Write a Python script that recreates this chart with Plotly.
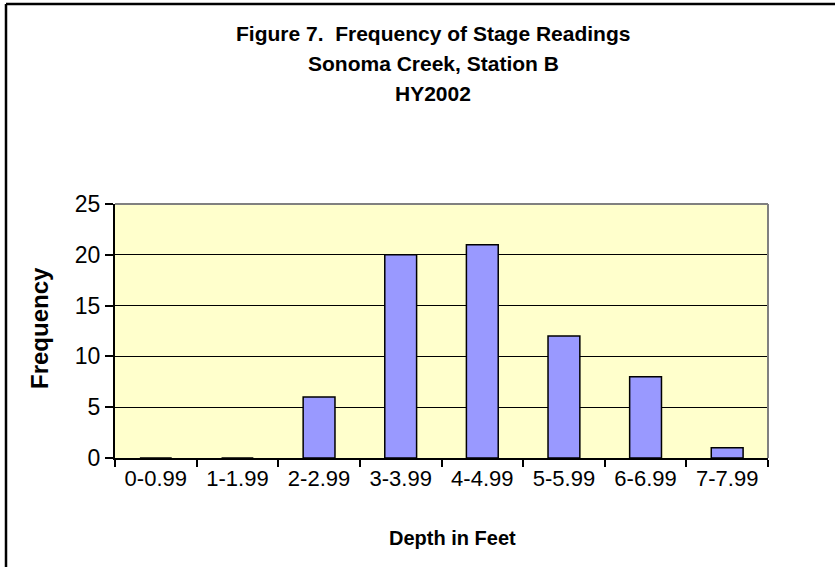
import plotly.graph_objects as go

categories = ["0-0.99", "1-1.99", "2-2.99", "3-3.99", "4-4.99", "5-5.99", "6-6.99", "7-7.99"]
frequency = [0, 0, 6, 20, 21, 12, 8, 1]
y_ticks = [0, 5, 10, 15, 20, 25]

W, H = 835, 567
L, T = 115, 204
pw, ph = 653, 254
R, B = W - L - pw, H - T - ph

def px(x):
    return (x - L) / pw

def py(y):
    return (H - B - y) / ph

fig = go.Figure()
fig.add_trace(go.Bar(
    x=categories, y=frequency,
    marker=dict(color="#9999FF", line=dict(color="black", width=1.5)),
    showlegend=False,
))

font = "Liberation Sans, Arial, sans-serif"
fig.update_layout(
    width=W, height=H,
    margin=dict(l=L, r=R, t=T, b=B, autoexpand=False),
    paper_bgcolor="white",
    plot_bgcolor="#FFFFCC",
    bargap=0.61,
    font=dict(family=font, size=20, color="black"),
    xaxis=dict(
        type="category",
        showline=True, linecolor="black", linewidth=2,
        ticks="outside", tickson="boundaries", ticklen=7, tickwidth=2, tickcolor="black",
        showgrid=False,
        tickfont=dict(size=22),
    ),
    yaxis=dict(
        range=[0, 25], tickvals=y_ticks,
        showline=True, linecolor="black", linewidth=2,
        ticks="outside", ticklen=8, tickwidth=1.5, tickcolor="black",
        showgrid=True, gridcolor="black", gridwidth=1,
        zeroline=False,
        tickfont=dict(size=23),
    ),
)

# axis titles
fig.add_annotation(text="<b>Depth in Feet</b>", xref="paper", yref="paper",
                   x=px(452), y=py(538), showarrow=False, xanchor="center", yanchor="middle",
                   font=dict(size=20, family=font, color="black"))
fig.add_annotation(text="<b>Frequency</b>", xref="paper", yref="paper",
                   x=px(39), y=py(328), showarrow=False, xanchor="center", yanchor="middle",
                   textangle=-90, font=dict(size=24, family=font, color="black"))

# plot-area border on top and right (gray)
fig.add_shape(type="line", xref="paper", yref="paper", x0=0, x1=1, y0=1, y1=1,
              line=dict(color="#808080", width=2))
fig.add_shape(type="line", xref="paper", yref="paper", x0=1, x1=1, y0=0, y1=1,
              line=dict(color="#808080", width=2))

# outer chart border (left and top visible)
fig.add_shape(type="line", xref="paper", yref="paper", x0=px(6), x1=px(6), y0=py(4), y1=py(H + 30),
              line=dict(color="black", width=2.5))
fig.add_shape(type="line", xref="paper", yref="paper", x0=px(6), x1=px(W + 30), y0=py(4), y1=py(4),
              line=dict(color="black", width=2.5))

titles = ["Figure 7.  Frequency of Stage Readings", "Sonoma Creek, Station B", "HY2002"]
for i, t in enumerate(titles):
    fig.add_annotation(text="<b>" + t.replace("  ", "&nbsp; ") + "</b>", xref="paper", yref="paper",
                       x=px(433), y=py(33 + 30 * i), showarrow=False,
                       xanchor="center", yanchor="middle",
                       font=dict(size=21, family=font, color="black"))

fig.write_html("out.html", config={"displayModeBar": False},
               post_script="document.body.style.margin='0px';")
